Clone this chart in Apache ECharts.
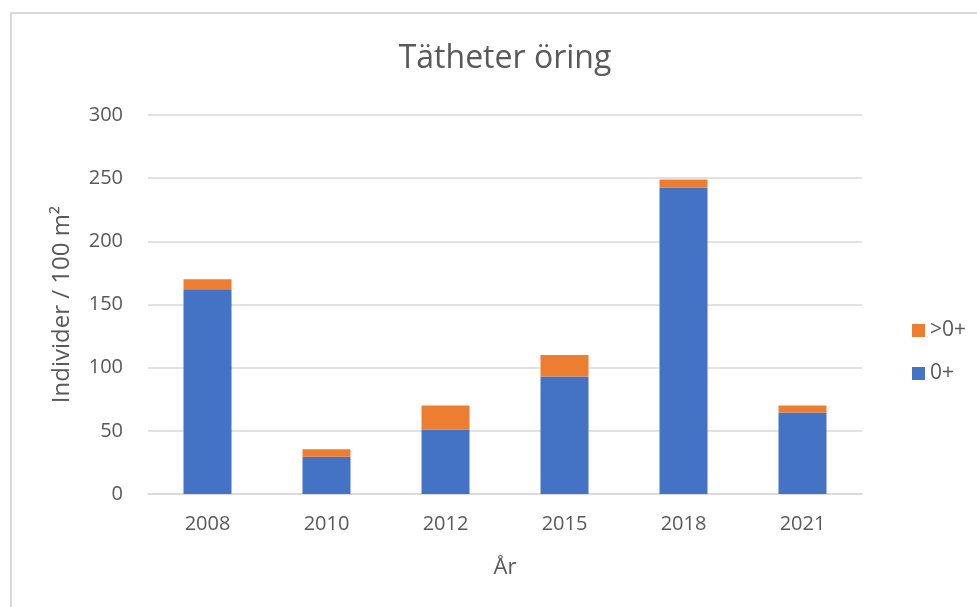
<!DOCTYPE html>
<html>
<head>
<meta charset="utf-8">
<script src="https://cdn.jsdelivr.net/npm/echarts@6/dist/echarts.min.js"></script>
<style>
html,body{margin:0;padding:0;background:#fff;}
#chart{width:977px;height:607px;}
</style>
</head>
<body>
<div id="chart"></div>
<script>
const categories = ['2008', '2010', '2012', '2015', '2018', '2021'];
const young = [162, 29.5, 51, 93, 242.5, 64.5];
const older = [8, 6, 19, 17, 6.5, 5.5];
const seriesNames = ['0+', '>0+'];
const titleText = 'Tätheter öring';
const yName = 'Individer / 100 m²';
const xName = 'År';

const font = '"Open Sans", sans-serif';
const chart = echarts.init(document.getElementById('chart'), null, {renderer: 'canvas'});
chart.setOption({
  animation: false,
  backgroundColor: '#ffffff',
  graphic: [{
    type: 'rect',
    shape: {x: 11, y: 13, width: 1200, height: 900},
    style: {fill: 'none', stroke: '#d9d9d9', lineWidth: 2},
    silent: true
  }],
  title: {
    text: titleText,
    left: 500,
    textAlign: 'center',
    top: 38,
    textStyle: {fontFamily: font, fontSize: 32, fontWeight: 'normal', color: '#595959'}
  },
  legend: {
    orient: 'vertical',
    left: 907,
    top: 315,
    itemWidth: 13,
    itemHeight: 13,
    itemGap: 22,
    icon: 'rect',
    data: ['>0+', '0+'],
    textStyle: {fontFamily: font, fontSize: 21, color: '#595959'}
  },
  grid: {left: 148, right: 115, top: 115, bottom: 113},
  xAxis: {
    type: 'category',
    data: categories,
    name: xName,
    nameLocation: 'middle',
    nameGap: 63,
    nameMoveOverlap: false,
    nameTextStyle: {fontFamily: font, fontSize: 22, color: '#595959'},
    axisLine: {lineStyle: {color: '#d9d9d9', width: 1.5}},
    axisTick: {show: false},
    axisLabel: {fontFamily: font, fontSize: 20, color: '#595959', margin: 20}
  },
  yAxis: {
    type: 'value',
    min: 0,
    max: 300,
    interval: 50,
    name: yName,
    nameLocation: 'middle',
    nameGap: 74,
    nameMoveOverlap: false,
    nameTextStyle: {fontFamily: font, fontSize: 24, color: '#595959'},
    axisLine: {show: false},
    axisTick: {show: false},
    splitLine: {lineStyle: {color: '#d9d9d9', width: 1.5}},
    axisLabel: {fontFamily: font, fontSize: 20, color: '#595959', margin: 25}
  },
  series: [
    {name: seriesNames[0], type: 'bar', stack: 'a', data: young, barWidth: 48,
     itemStyle: {color: '#4472C4'}},
    {name: seriesNames[1], type: 'bar', stack: 'a', data: older, barWidth: 48,
     itemStyle: {color: '#ED7D31'}}
  ]
});
</script>
</body>
</html>
